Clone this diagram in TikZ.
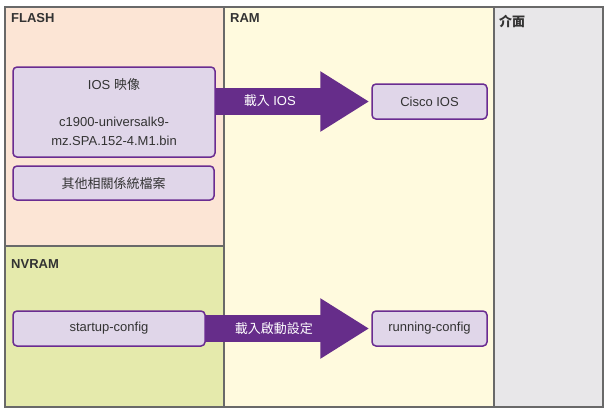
\documentclass[tikz,border=0pt]{standalone}
\usepackage{fontspec}
\setmainfont{Liberation Sans}
\newfontfamily\cjk{Noto Sans CJK TC}
\usetikzlibrary{arrows.meta,calc}
\definecolor{flashc}{RGB}{252,229,213}
\definecolor{nvramc}{RGB}{229,234,172}
\definecolor{ramc}{RGB}{255,250,222}
\definecolor{ifc}{RGB}{232,231,233}
\definecolor{frame}{RGB}{105,105,105}
\definecolor{pborder}{RGB}{106,44,145}
\definecolor{pfill}{RGB}{224,214,233}
\definecolor{parrow}{RGB}{102,45,138}
\definecolor{txt}{RGB}{51,51,51}
\pgfdeclarelayer{bg}
\pgfdeclarelayer{arr}
\pgfsetlayers{bg,arr,main}
\tikzset{
  region/.style={draw=frame, line width=1.5pt},
  hdr/.style={anchor=west, inner sep=0pt, text=txt, font=\fontsize{13}{15}\selectfont\bfseries},
  item/.style={draw=pborder, fill=pfill, line width=1.5pt, rounded corners=4pt, inner sep=0pt,
    text=txt, font=\fontsize{13}{18.5}\selectfont, align=center},
  bigarrow/.style={draw=parrow, line width=27pt, -{Triangle[width=57pt,length=49pt]}},
  arrlabel/.style={text=white, inner sep=0pt, font=\fontsize{13}{15}\selectfont}
}
\begin{document}
\begin{tikzpicture}[x=1pt,y=-1pt]
\useasboundingbox (0,0) rectangle (609,413);
\begin{pgfonlayer}{bg}
  \fill[white] (0,0) rectangle (609,413);
  \draw[region, fill=flashc] (5,7) rectangle (224,246);
  \draw[region, fill=nvramc] (5,246) rectangle (224,407);
  \draw[region, fill=ramc] (224,7) rectangle (494,407);
  \draw[region, fill=ifc] (494,7) rectangle (603,407);
\end{pgfonlayer}
\node[hdr] (hflash) at (11,18) {FLASH};
\node[hdr] (hram) at (230,18) {RAM};
\node[hdr] (hnvram) at (11,264) {NVRAM};
\node[hdr, font=\fontsize{13}{15}\selectfont\cjk\bfseries] (hif) at (499,21) {介面};

\node[item, minimum width=202pt, minimum height=90pt] (ios) at (114,112)
  {IOS {\cjk 映像}\\[18.5pt]c1900-universalk9-\\mz.SPA.152-4.M1.bin};
\node[item, minimum width=201pt, minimum height=34pt] (other) at (113.5,183) {\cjk 其他相關係統檔案};
\node[item, minimum width=115pt, minimum height=35pt] (cisco) at (429.5,101.5) {Cisco IOS};
\node[item, minimum width=192pt, minimum height=35pt] (startup) at (109,328.5) {startup-config};
\node[item, minimum width=115pt, minimum height=35pt] (running) at (429.5,328.5) {running-config};

\begin{pgfonlayer}{arr}
  \draw[bigarrow, shorten >=2pt] (ios.east |- cisco.west) -- (cisco.west);
  \draw[bigarrow, shorten >=2pt] (startup.east) -- (running.west);
\end{pgfonlayer}
\node[arrlabel] (l1) at ($(ios.east |- cisco.west)+(54,-1)$) {{\cjk 載入} IOS};
\node[arrlabel] (l2) at ($(startup.east)+(68,0)$) {\cjk 載入啟動設定};
\end{tikzpicture}
\end{document}
